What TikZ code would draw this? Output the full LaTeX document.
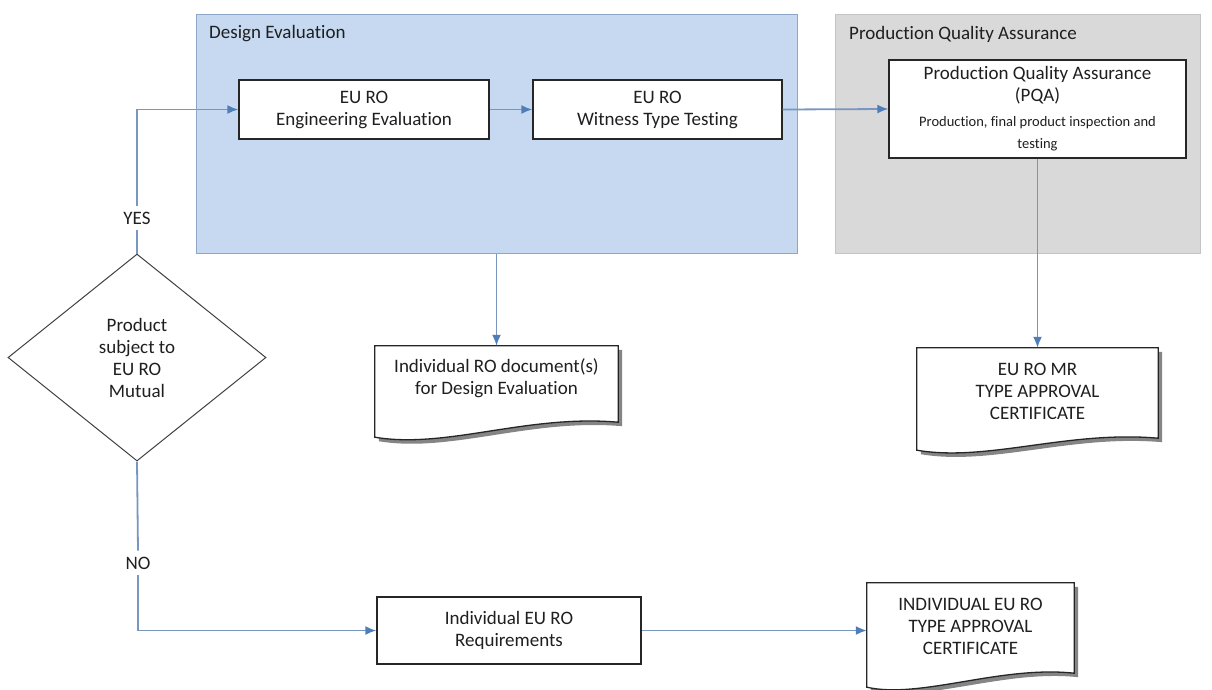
\documentclass[tikz,border=0pt]{standalone}
\usepackage{fontspec}
\setmainfont{Carlito}[Ligatures=NoCommon]
\usetikzlibrary{arrows.meta,shapes.geometric,calc}
\definecolor{deblue}{HTML}{C6D9F1}
\definecolor{deborder}{HTML}{8EA7C8}
\definecolor{pqagray}{HTML}{D9D9D9}
\definecolor{pqaborder}{HTML}{C4C4C4}
\definecolor{conncol}{HTML}{7896C0}
\definecolor{tipc}{HTML}{4F7DB8}
\definecolor{txtc}{HTML}{1F1F1F}
\tikzset{
 bigtext/.style={font=\fontsize{19}{22}\selectfont, text=txtc},
 region/.style={draw=deborder, fill=deblue, line width=1pt, inner sep=0pt},
 pqaregion/.style={draw=pqaborder, fill=pqagray, line width=1pt, inner sep=0pt},
 procbox/.style={draw=black!85, fill=white, line width=1.3pt, inner sep=0pt, align=center, bigtext},
 docframe/.style={inner sep=0pt},
 conn/.style={draw=conncol, line width=1.8pt},
 arr/.style={conn, -{Latex[length=11pt,width=9pt,color=tipc]}},
 lbl/.style={bigtext, inner sep=6pt},
}
\newcommand\docoutline[2]{%
 \fill[black!60, opacity=0.8] ($(#1.north west)+(4,4)$) -- ($(#1.north east)+(4,4)$) -- ($(#1.south east)+(4,4-#2)$)
   .. controls ($(#1.south)+(34,-#2-4)$) and ($(#1.south)+(-46,16)$) .. ($(#1.south west)+(4,4)$) -- cycle;
 \draw[fill=white, line width=1.3pt, draw=black!85] (#1.north west) -- (#1.north east) -- ($(#1.south east)+(0,-#2)$)
   .. controls ($(#1.south)+(30,-#2-8)$) and ($(#1.south)+(-50,12)$) .. (#1.south west) -- cycle;
}
\begin{document}
\begin{tikzpicture}[x=1pt,y=-1pt]
\useasboundingbox (0,0) rectangle (1212,689);
% regions
\node[region, minimum width=601pt, minimum height=239pt] (de) at (496.5,133.5) {};
\node[bigtext, anchor=west, inner sep=0pt] (delbl) at (209,34) {Design Evaluation};
\node[pqaregion, minimum width=365pt, minimum height=239pt] (pqa) at (1017.5,133.5) {};
\node[bigtext, anchor=west, inner sep=0pt] (pqalbl) at (849,34) {Production Quality Assurance};
% process boxes
\node[procbox, minimum width=250pt, minimum height=59pt] (eng) at (364,109.5) {EU RO\\Engineering Evaluation};
\node[procbox, minimum width=249pt, minimum height=59pt] (wit) at (657.5,109.5) {EU RO\\Witness Type Testing};
\node[procbox, minimum width=297pt, minimum height=98pt] (pqab) at (1037.5,109) {Production Quality Assurance\\(PQA)\\[3pt]{\fontsize{14.5}{17}\selectfont Production, final product inspection and}\\{\fontsize{14.5}{17}\selectfont testing}};
\node[procbox, minimum width=264pt, minimum height=67pt] (req) at (509,630.5) {Individual EU RO\\Requirements};
% decision
\node[diamond, draw=black!75, line width=1pt, minimum width=258pt, minimum height=207pt, inner sep=0pt, align=center, bigtext] (dec) at (137,357.5) {Product\\subject to\\EU RO\\Mutual};
% documents
\node[docframe, minimum width=243pt, minimum height=91pt] (d1) at (496.5,391.5) {};
\docoutline{d1}{15}
\node[bigtext, align=center] (d1t) at ($(d1.north)+(0,32)$) {Individual RO document(s)\\for Design Evaluation};
\node[docframe, minimum width=241pt, minimum height=102pt] (d2) at (1037.5,399) {};
\docoutline{d2}{12}
\node[bigtext, align=center] (d2t) at ($(d2.north)+(0,44)$) {EU RO MR\\TYPE APPROVAL\\CERTIFICATE};
\node[docframe, minimum width=207pt, minimum height=104pt] (d3) at (970.5,635) {};
\docoutline{d3}{14}
\node[bigtext, align=center] (d3t) at ($(d3.north)+(0,44)$) {INDIVIDUAL EU RO\\TYPE APPROVAL\\CERTIFICATE};
% labels
\node[lbl] (yes) at (137,218) {YES};
\node[lbl] (no) at (138,563) {NO};
% connectors
\draw[conn] (dec.north) -- (yes.south);
\draw[arr] (yes.north) |- (eng.west);
\draw[arr] (eng.east) -- (wit.west);
\draw[arr] (wit.east) -- (pqab.west);
\draw[arr] (de.south -| d1.north) -- (d1.north);
\draw[arr] (pqab.south) -- (d2.north);
\draw[conn] (dec.south) -- (no.north);
\draw[arr] (no.south) |- (req.west);
\draw[arr] (req.east) -- (req.east -| d3.west);
\end{tikzpicture}
\end{document}
